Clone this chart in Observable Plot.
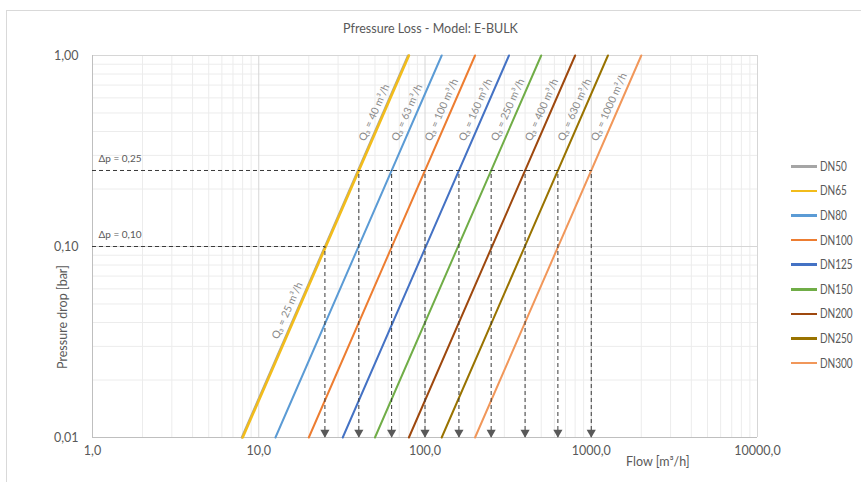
<!DOCTYPE html>
<html>
<head>
<meta charset="utf-8">
<script src="https://cdn.jsdelivr.net/npm/d3@7"></script>
<script src="https://cdn.jsdelivr.net/npm/@observablehq/plot@0.6"></script>
<style>
  html, body { margin: 0; padding: 0; background: #fff; }
  #wrap { position: relative; width: 861px; height: 482px; overflow: hidden; font-family: Lato, "Open Sans", sans-serif; color: #595959; }
  #frame { position: absolute; left: 6px; top: 10px; width: 900px; height: 520px; border: 1px solid #d9d9d9; box-sizing: border-box; }
  #chart { position: absolute; left: 0; top: 0; }
  #title { position: absolute; left: 0; width: 861px; top: 21px; text-align: center; font-size: 12.5px; color: #595959; }
  #ylabel { position: absolute; left: 62px; top: 317px; transform: translate(-50%, -50%) rotate(-90deg); font-size: 12.5px; white-space: nowrap; }
  #xlabel { position: absolute; left: 626px; top: 454px; font-size: 12.5px; white-space: nowrap; }
  #legend { position: absolute; left: 791px; top: 154px; }
  .item { display: flex; align-items: center; height: 24.6px; font-size: 12.5px; }
  .swatch { width: 26px; height: 2.5px; margin-right: 3px; flex: none; }
  .lbl { display: inline-block; transform: scaleX(0.8); transform-origin: left center; white-space: nowrap; }
</style>
</head>
<body>
<div id="wrap">
  <div id="frame"></div>
  <div id="chart"></div>
  <div id="title">Pfressure Loss - Model: E-BULK</div>
  <div id="ylabel">Pressure drop [bar]</div>
  <div id="xlabel">Flow [m³/h]</div>
  <div id="legend"></div>
</div>
<script>
// ---- data ----
const series = ["DN50", "DN65", "DN80", "DN100", "DN125", "DN150", "DN200", "DN250", "DN300"];
const colors = ["#A5A5A5", "#F2BC1B", "#5B9BD5", "#ED7D31", "#4472C4", "#70AD47", "#9E480E", "#997300", "#F1975A"];
// flow [m3/h] where each curve crosses 0,01 bar and 1,00 bar
const flowAtLow = [7.9, 8, 12.6, 20, 32, 50, 80, 126, 200];
const flowAtHigh = [79, 80, 126, 200, 320, 500, 800, 1260, 2000];
const dpLow = 0.01;
const dpHigh = 1.0;

// nominal flows Q3 and their pressure drop
const q3Flow = [25, 40, 63, 100, 160, 250, 400, 630, 1000];
const q3Dp = [0.10, 0.25, 0.25, 0.25, 0.25, 0.25, 0.25, 0.25, 0.25];
const q3Labels = ["Q₃ = 25 m³/h", "Q₃ = 40 m³/h", "Q₃ = 63 m³/h", "Q₃ = 100 m³/h", "Q₃ = 160 m³/h",
                  "Q₃ = 250 m³/h", "Q₃ = 400 m³/h", "Q₃ = 630 m³/h", "Q₃ = 1000 m³/h"];

// reference pressure-drop levels
const dpLevels = [0.25, 0.10];
const dpLevelEnds = [1000, 25];
const dpLabels = ["Δp = 0,25", "Δp = 0,10"];

// axis ticks
const xTicks = [1, 10, 100, 1000, 10000];
const xTickLabels = ["1,0", "10,0", "100,0", "1000,0", "10000,0"];
const yTicks = [0.01, 0.1, 1];
const yTickLabels = ["0,01", "0,10", "1,00"];

// ---- build ----
const lines = series.flatMap((s, i) => [
  {series: s, flow: flowAtLow[i], dp: dpLow},
  {series: s, flow: flowAtHigh[i], dp: dpHigh}
]);
const q3 = q3Flow.map((f, i) => ({flow: f, dp: q3Dp[i], label: q3Labels[i]}));
const levels = dpLevels.map((d, i) => ({dp: d, end: dpLevelEnds[i], label: dpLabels[i]}));

const xMinor = d3.scaleLog().domain([1, 10000]).ticks().filter(v => !xTicks.includes(v));
const yMinor = d3.scaleLog().domain([0.01, 1]).ticks().filter(v => !yTicks.some(t => Math.abs(t - v) < 1e-9));

const dashed = "4,3";
const chart = Plot.plot({
  width: 861,
  height: 482,
  marginLeft: 92,
  marginRight: 104,
  marginTop: 55,
  marginBottom: 45,
  style: {fontFamily: "Lato, 'Open Sans', sans-serif", fontSize: "12.5px", color: "#595959", background: "transparent"},
  x: {type: "log", domain: [1, 10000], label: null, ticks: xTicks, tickSize: 0, tickPadding: 9,
      tickFormat: d => xTickLabels[xTicks.indexOf(d)]},
  y: {type: "log", domain: [0.01, 1], label: null, ticks: yTicks, tickSize: 0, tickPadding: 14,
      tickFormat: d => yTickLabels[yTicks.findIndex(t => Math.abs(t - d) < 1e-9)]},
  color: {domain: series, range: colors},
  marks: [
    Plot.ruleX(xMinor, {stroke: "#ececec", strokeWidth: 1}),
    Plot.ruleY(yMinor, {stroke: "#ececec", strokeWidth: 1}),
    Plot.ruleX(xTicks, {stroke: "#d6d6d6", strokeWidth: 1}),
    Plot.ruleY(yTicks, {stroke: "#d6d6d6", strokeWidth: 1}),
    Plot.ruleX([1], {stroke: "#bfbfbf"}),
    Plot.ruleY([0.01], {stroke: "#bfbfbf"}),
    Plot.line(lines.filter(d => d.series !== "DN65"), {x: "flow", y: "dp", z: "series", stroke: "series", strokeWidth: 2}),
    Plot.line(lines.filter(d => d.series === "DN65"), {x: "flow", y: "dp", z: "series", stroke: "series", strokeWidth: 2.6}),
    Plot.ruleY(levels, {y: "dp", x1: 1, x2: "end", stroke: "#3a3a3a", strokeWidth: 1, strokeDasharray: dashed}),
    Plot.ruleX(q3, {x: "flow", y1: 0.01, y2: "dp", stroke: "#3a3a3a", strokeWidth: 1, strokeDasharray: dashed}),
    Plot.dot(q3, {x: "flow", y: 0.01, symbol: "triangle", r: 3.4, rotate: 180, dy: -5, fill: "#595959", stroke: "none"}),
    Plot.text(levels, {x: 1, y: "dp", text: "label", textAnchor: "start", dx: 6, dy: -12, fontSize: 10, fill: "#595959"}),
    Plot.text(q3.filter(d => d.flow !== 25), {x: "flow", y: "dp", text: "label", textAnchor: "start", rotate: -66, dx: 3, dy: -30, fontSize: 10.5, fill: "#8a8a8a"}),
    Plot.text(q3.filter(d => d.flow === 25), {x: "flow", y: "dp", text: "label", textAnchor: "start", rotate: -66, dx: -50, dy: 92, fontSize: 10.5, fill: "#8a8a8a"})
  ]
});
document.getElementById("chart").appendChild(chart);

const legend = document.getElementById("legend");
series.forEach((s, i) => {
  const it = document.createElement("div");
  it.className = "item";
  const sw = document.createElement("span");
  sw.className = "swatch";
  sw.style.background = colors[i];
  const tx = document.createElement("span");
  tx.className = "lbl";
  tx.textContent = s;
  it.appendChild(sw);
  it.appendChild(tx);
  legend.appendChild(it);
});
</script>
</body>
</html>
